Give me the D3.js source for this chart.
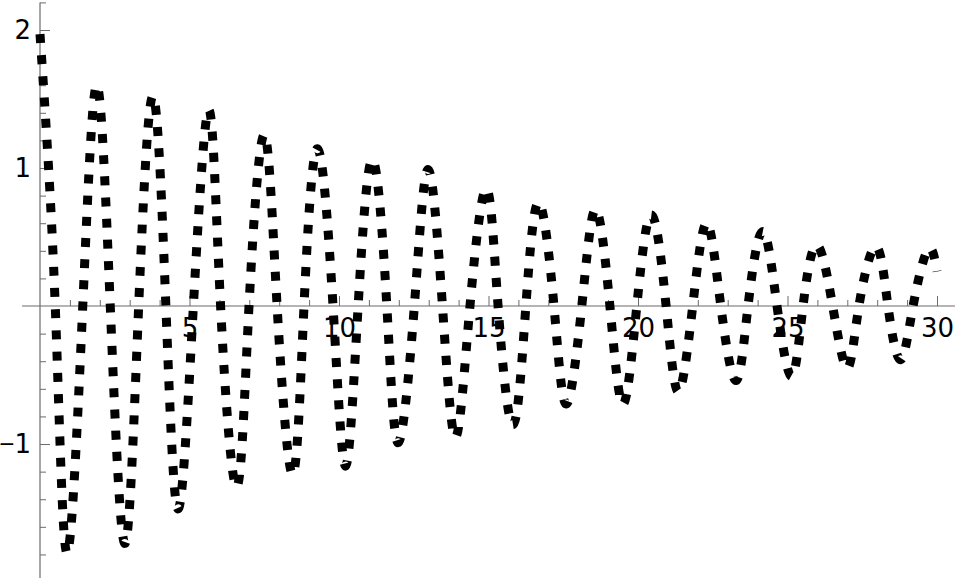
<!DOCTYPE html>
<html>
<head>
<meta charset="utf-8">
<script src="https://cdn.jsdelivr.net/npm/d3@7"></script>
<style>
  html, body { margin: 0; padding: 0; background: #fff; }
  svg { display: block; }
  text { font-family: "DejaVu Sans", sans-serif; }
</style>
</head>
<body>
<svg id="chart" width="960" height="583"></svg>
<script>
// ---- data ----
// extrema and zero crossings of the damped oscillation, in order of t
const tValues = [
  0, 0.51, 0.90, 1.43, 1.90, 2.35, 2.84, 3.30, 3.78, 4.21, 4.62, 5.13, 5.65, 6.04, 6.58, 6.99,
  7.50, 7.93, 8.45, 8.83, 9.28, 9.80, 10.22, 10.64, 11.12, 11.60, 11.98, 12.52, 12.98, 13.46,
  13.90, 14.38, 14.93, 15.32, 15.82, 16.25, 16.68, 17.19, 17.60, 18.12, 18.58, 19.06, 19.50,
  19.96, 20.45, 20.94, 21.35, 21.83, 22.30, 22.77, 23.28, 23.68, 24.17, 24.65, 25.14, 25.52,
  25.98, 26.51, 27.00, 27.39, 27.96, 28.36, 28.78, 29.20, 29.70, 30.00
];
const yValues = [
  1.97, 0, -1.79, 0, 1.60, 0, -1.72, 0, 1.52, 0, -1.47, 0, 1.42, 0, -1.31, 0,
  1.24, 0, -1.22, 0, 1.14, 0, -1.16, 0, 1.06, 0, -0.99, 0, 0.99, 0,
  -0.95, 0, 0.85, 0, -0.86, 0, 0.75, 0, -0.71, 0, 0.70, 0, -0.71,
  0, 0.66, 0, -0.62, 0, 0.60, 0, -0.54, 0, 0.54, 0, -0.51, 0,
  0.44, 0, -0.45, 0, 0.43, 0, -0.39, 0, 0.41, 0.25
];
const plotRangeX = [-0.6, 30.6];
const plotRangeY = [-1.97, 2.2];
const xMajorTicks = [5, 10, 15, 20, 25, 30];
const xMinorTicks = [1, 2, 3, 4, 6, 7, 8, 9, 11, 12, 13, 14, 16, 17, 18, 19, 21, 22, 23, 24, 26, 27, 28, 29];
const yMajorTicks = [-1, 1, 2];
const yMinorTicks = [-1.8, -1.6, -1.4, -1.2, -0.8, -0.6, -0.4, -0.2, 0.2, 0.4, 0.6, 0.8,
                     1.2, 1.4, 1.6, 1.8, 2.2];

// ---- drawing ----
const svg = d3.select("#chart");
const x = d3.scaleLinear().domain([0, 30]).range([40, 937]);
const y = d3.scaleLinear().domain(plotRangeY).range([577.9, 2.4]);
const axisColor = "#6b6b6b";

const fmt = d => (d < 0 ? "\u2212" + Math.abs(d) : String(d));

// x axis ticks (pointing up)
const gx = svg.append("g").attr("transform", `translate(0,${y(0)})`);
gx.append("g").call(d3.axisBottom(x).tickValues(xMinorTicks).tickSizeInner(-6).tickSizeOuter(0).tickFormat(""))
  .call(g => g.select(".domain").remove());
gx.append("g").call(d3.axisBottom(x).tickValues(xMajorTicks).tickSizeInner(-10).tickSizeOuter(0)
    .tickPadding(13).tickFormat(fmt))
  .call(g => g.select(".domain").remove());

// y axis ticks (pointing right)
const gy = svg.append("g").attr("transform", `translate(${x(0)},0)`);
gy.append("g").call(d3.axisLeft(y).tickValues(yMinorTicks).tickSizeInner(-6).tickSizeOuter(0).tickFormat(""))
  .call(g => g.select(".domain").remove());
const gyMajor = gy.append("g").call(d3.axisLeft(y).tickValues(yMajorTicks).tickSizeInner(-10).tickSizeOuter(0)
    .tickPadding(9).tickFormat(fmt))
  .call(g => g.select(".domain").remove());

svg.selectAll(".tick line").attr("stroke", axisColor).attr("stroke-width", 1);
svg.selectAll(".tick text").attr("fill", "#000").attr("font-size", 26)
   .attr("font-family", "DejaVu Sans, sans-serif");

// narrower minus sign for negative labels
gyMajor.selectAll(".tick text").each(function(d) {
  if (d < 0) {
    const t = d3.select(this);
    t.text(null);
    t.append("tspan").attr("font-family", "Liberation Sans, Arial, sans-serif").text("\u2212");
    t.append("tspan").text(String(Math.abs(d)));
  }
});

// axis lines
svg.append("line")
  .attr("x1", x(plotRangeX[0])).attr("x2", x(plotRangeX[1]))
  .attr("y1", y(0)).attr("y2", y(0))
  .attr("stroke", axisColor).attr("stroke-width", 1.2);
svg.append("line")
  .attr("x1", x(0)).attr("x2", x(0))
  .attr("y1", y(plotRangeY[0])).attr("y2", y(plotRangeY[1]))
  .attr("stroke", axisColor).attr("stroke-width", 1.2);

// curve
const pts = tValues.map((t, i) => [t, yValues[i]]);
const line = d3.line().x(d => x(d[0])).y(d => y(d[1])).curve(d3.curveNatural);
svg.append("path")
  .datum(pts)
  .attr("d", line)
  .attr("fill", "none")
  .attr("stroke", "#000")
  .attr("stroke-width", 9)
  .attr("stroke-dasharray", "9,12.2")
  .attr("stroke-linecap", "butt")
  .attr("stroke-linejoin", "miter");
</script>
</body>
</html>
